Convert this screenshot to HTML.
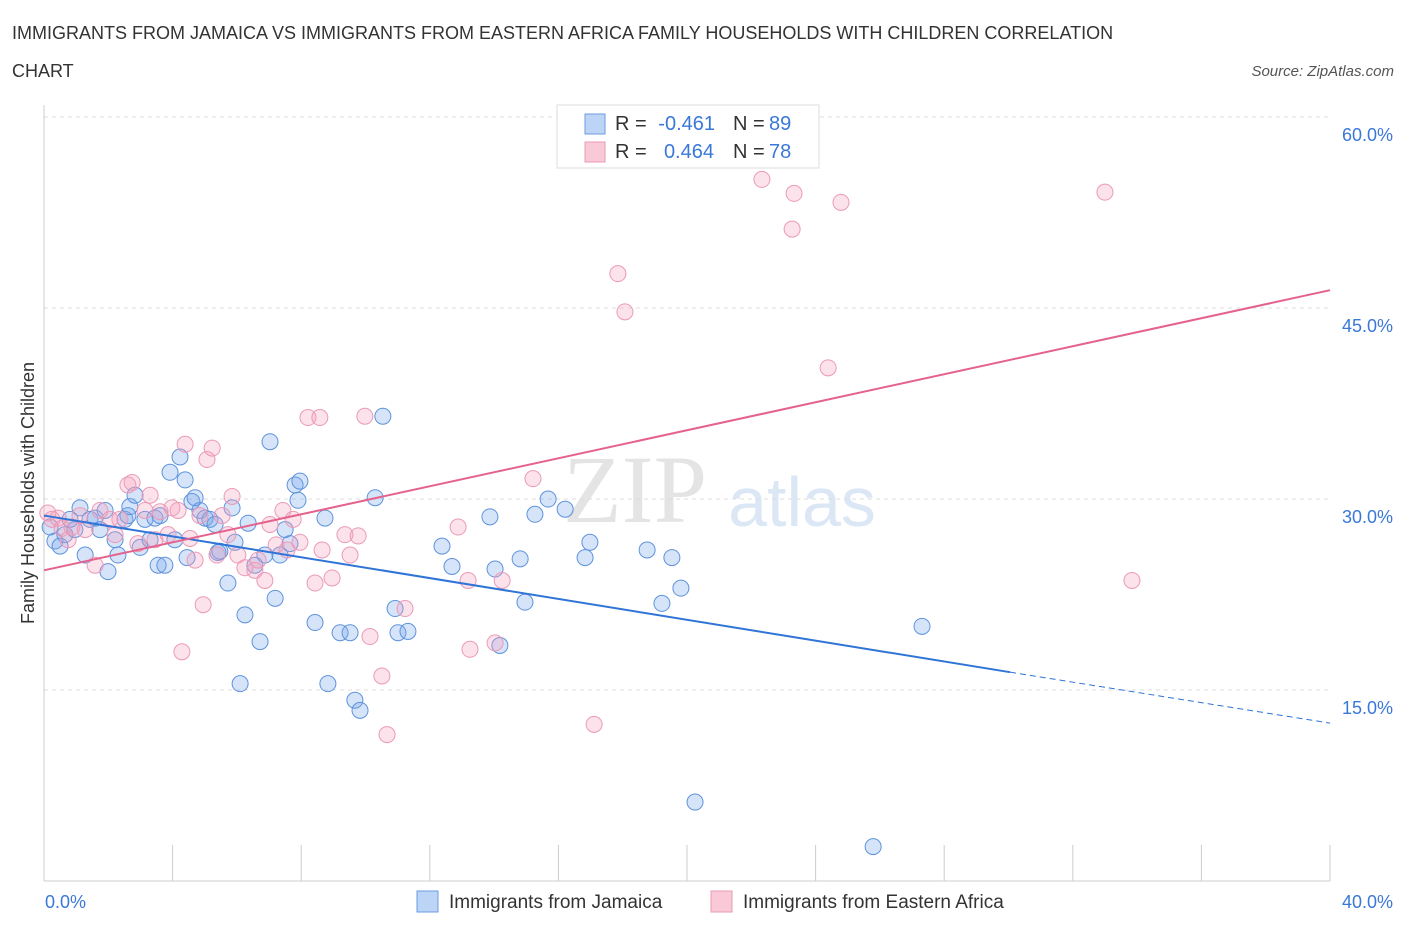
<!DOCTYPE html>
<html><head><meta charset="utf-8">
<style>
body{margin:0;background:#fff;font-family:"Liberation Sans",sans-serif;}
svg{display:block}
</style></head>
<body>
<svg id="chart" width="1406" height="930">
<text x="12" y="39" font-size="18" fill="#333">IMMIGRANTS FROM JAMAICA VS IMMIGRANTS FROM EASTERN AFRICA FAMILY HOUSEHOLDS WITH CHILDREN CORRELATION</text>
<text x="12" y="77" font-size="18" fill="#333">CHART</text>
<text x="1394" y="76" font-size="15" fill="#555" font-style="italic" text-anchor="end">Source: ZipAtlas.com</text>
<text x="635" y="522" font-size="96" fill="#e4e4e4" font-family="Liberation Serif,serif" text-anchor="middle">ZIP</text>
<text x="802" y="526" font-size="70" fill="#dce7f5" text-anchor="middle">atlas</text>
<g id="grid"></g>
<g id="pts"></g>
<g id="lines"></g>
<text transform="translate(34,493) rotate(-90)" font-size="18" fill="#333" text-anchor="middle">Family Households with Children</text>
<text x="45" y="908" font-size="18" fill="#3a78d8" text-anchor="start">0.0%</text>
<text x="1393" y="908" font-size="18" fill="#3a78d8" text-anchor="end">40.0%</text>
<g>
<rect x="557" y="105" width="262" height="63" fill="#fff" stroke="#ddd"/>
<rect x="585" y="114" width="20" height="20" fill="#bcd4f6" stroke="#6a9be0"/>
<rect x="585" y="142" width="20" height="20" fill="#f9c9d8" stroke="#e99ab5"/>
<text x="615" y="130" font-size="20" fill="#333">R =</text>
<text x="715" y="130" font-size="20" fill="#3a78d8" text-anchor="end">-0.461</text>
<text x="733" y="130" font-size="20" fill="#333">N =</text>
<text x="769" y="130" font-size="20" fill="#3a78d8">89</text>
<text x="615" y="158" font-size="20" fill="#333">R =</text>
<text x="714" y="158" font-size="20" fill="#3a78d8" text-anchor="end">0.464</text>
<text x="733" y="158" font-size="20" fill="#333">N =</text>
<text x="769" y="158" font-size="20" fill="#3a78d8">78</text>
</g>
<g>
<rect x="417" y="891" width="21" height="21" fill="#bcd4f6" stroke="#6a9be0"/>
<text x="449" y="908" font-size="19" fill="#333">Immigrants from Jamaica</text>
</g>
<g>
<rect x="711" y="891" width="21" height="21" fill="#f9c9d8" stroke="#e99ab5"/>
<text x="743" y="908" font-size="19" fill="#333">Immigrants from Eastern Africa</text>
</g>
</svg>
<script>
const yTicks=[15,30,45,60];
const xTicks=[0,4,8,12,16,20,24,28,32,36,40];
const blueX=[0.19,0.34,0.5,0.65,0.81,0.96,1.12,1.28,1.43,1.59,1.74,1.9,1.99,2.21,2.3,2.52,2.61,2.67,2.83,2.99,3.14,3.3,3.45,3.55,3.61,3.76,3.92,4.07,4.23,4.39,4.45,4.6,4.7,4.85,5.01,5.16,5.32,5.41,5.47,5.72,5.85,5.94,6.1,6.25,6.35,6.56,6.72,6.87,7.03,7.19,7.34,7.5,7.65,7.81,7.9,7.96,8.43,8.74,8.83,9.21,9.52,9.67,9.83,10.3,10.54,10.92,11.01,11.32,12.38,12.69,13.87,14.03,14.18,14.81,14.96,15.27,15.68,16.21,16.83,16.98,18.76,19.22,19.53,19.81,20.25,25.79,27.31];
const blueY=[27.8,26.7,26.3,27.2,28.4,27.6,29.3,25.6,28.4,28.5,27.6,29.1,24.3,26.8,25.6,28.4,28.7,29.4,30.3,26.2,28.4,26.8,28.5,24.8,28.7,24.8,32.1,26.8,33.3,31.5,25.4,29.8,30.1,29.1,28.5,28.4,28.0,25.8,25.9,23.4,29.3,26.6,15.5,20.9,28.1,24.8,18.8,25.6,34.5,22.2,25.6,27.6,26.5,31.1,29.9,31.4,20.3,28.5,15.5,19.5,19.5,14.2,13.4,30.1,36.5,21.4,19.5,19.6,26.3,24.7,28.6,24.5,18.5,25.3,21.9,28.8,30.0,29.2,25.4,26.6,26.0,21.8,25.4,23.0,6.2,2.7,20.0];
const pinkX=[0.12,0.25,0.44,0.56,0.75,0.87,1.12,1.28,1.59,1.74,2.05,2.21,2.36,2.61,2.74,2.92,3.14,3.3,3.45,3.61,3.86,3.98,4.17,4.29,4.39,4.54,4.7,4.85,4.95,5.07,5.23,5.38,5.54,5.72,5.85,6.03,6.25,6.56,6.66,6.87,7.03,7.22,7.43,7.56,7.75,7.96,8.21,8.43,8.58,8.65,8.96,9.36,9.52,9.77,9.98,10.14,10.51,10.67,11.23,12.88,13.19,13.25,14.03,14.25,15.21,17.11,17.85,18.07,22.33,23.27,23.33,24.39,24.79,33.0,33.84];
const pinkY=[28.9,28.4,28.5,27.7,26.8,27.8,28.7,27.6,24.8,29.1,28.4,27.2,28.4,31.1,31.3,26.5,29.1,30.3,26.8,29.0,27.2,29.3,29.1,18.0,34.3,26.9,25.2,28.7,21.7,33.1,34.0,25.6,28.7,27.2,30.2,25.6,24.6,24.4,25.2,23.6,28.0,26.4,29.1,26.0,28.4,26.6,36.4,23.4,36.4,26.0,23.8,27.2,25.6,27.1,36.5,19.2,16.1,11.5,21.4,27.8,23.6,18.2,18.7,23.6,31.6,12.3,47.7,44.7,55.1,51.2,54.0,40.3,53.3,54.1,23.6];
const blueTrend=[28.7,16.4,12.4];
const blueTrendX=[0,30.05,40];
const pinkTrend=[24.4,46.4];
const pinkTrendX=[0,40];

const X0=44,X1=1330,YB=881;
const sx=v=>X0+v/40*(X1-X0);
const sy=v=>YB-v*12.733;
const NS='http://www.w3.org/2000/svg';
function mk(tag,attrs,parent){const e=document.createElementNS(NS,tag);for(const k in attrs)e.setAttribute(k,attrs[k]);parent.appendChild(e);return e;}
const grid=document.getElementById('grid');
yTicks.forEach(t=>{
  const l=mk('line',{x1:X0,x2:X1,y1:sy(t),y2:sy(t),stroke:'#ddd','stroke-dasharray':'4,4'},grid);
  
  
  const tx=mk('text',{x:1393,y:sy(t)+24,'font-size':18,fill:'#3a78d8','text-anchor':'end'},grid);
  tx.textContent=t.toFixed(1)+'%';
  
  
});
const ax=mk('line',{x1:X0,x2:X0,y1:105,y2:YB,stroke:'#ccc'},grid);


const bx=mk('line',{x1:X0,x2:X1,y1:YB,y2:YB,stroke:'#ccc'},grid);


xTicks.forEach(t=>{
  const l=mk('line',{x1:sx(t),x2:sx(t),y1:YB-36,y2:YB,stroke:'#ccc'},grid);
  
  
});
const pts=document.getElementById('pts');
blueX.forEach((v,i)=>{
  const c=mk('circle',{cx:sx(v),cy:sy(blueY[i]),r:8,fill:'rgba(120,165,235,0.3)',stroke:'#5e93dc','stroke-width':1},pts);
  
  
});
pinkX.forEach((v,i)=>{
  const c=mk('circle',{cx:sx(v),cy:sy(pinkY[i]),r:8,fill:'rgba(245,160,190,0.3)',stroke:'#eb9ab7','stroke-width':1},pts);
  
  
});
const lines=document.getElementById('lines');
const b1=mk('line',{x1:sx(blueTrendX[0]),y1:sy(blueTrend[0]),x2:sx(blueTrendX[1]),y2:sy(blueTrend[1]),stroke:'#2f74d6','stroke-width':2},lines);


const b2=mk('line',{x1:sx(blueTrendX[1]),y1:sy(blueTrend[1]),x2:sx(blueTrendX[2]),y2:sy(blueTrend[2]),stroke:'#2f74d6','stroke-width':1,'stroke-dasharray':'6,4'},lines);


const p1=mk('line',{x1:sx(pinkTrendX[0]),y1:sy(pinkTrend[0]),x2:sx(pinkTrendX[1]),y2:sy(pinkTrend[1]),stroke:'#e4628c','stroke-width':2},lines);


</script>
</body></html>
